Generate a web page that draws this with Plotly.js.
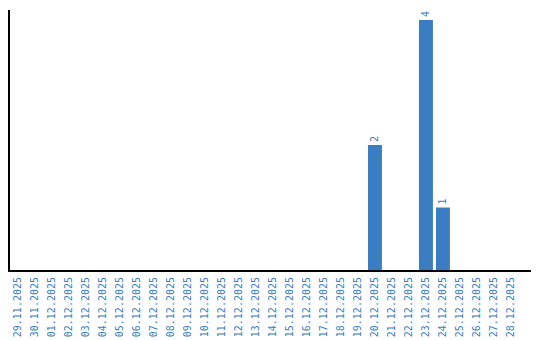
<!DOCTYPE html>
<html><head><meta charset="utf-8">
<script src="https://cdn.plot.ly/plotly-3.0.1.min.js"></script>
<style>html,body{margin:0;padding:0;background:#fff}</style>
</head><body><div id="chart" style="width:540px;height:340px"></div>
<script>
const dates = ["29.11.2025","30.11.2025","01.12.2025","02.12.2025","03.12.2025","04.12.2025","05.12.2025","06.12.2025","07.12.2025","08.12.2025","09.12.2025","10.12.2025","11.12.2025","12.12.2025","13.12.2025","14.12.2025","15.12.2025","16.12.2025","17.12.2025","18.12.2025","19.12.2025","20.12.2025","21.12.2025","22.12.2025","23.12.2025","24.12.2025","25.12.2025","26.12.2025","27.12.2025","28.12.2025"];
const counts = [0,0,0,0,0,0,0,0,0,0,0,0,0,0,0,0,0,0,0,0,0,2,0,0,4,1,0,0,0,0];
const labels = counts.map(v => v > 0 ? String(v) : "");
const blue = "#3b7dc2";
Plotly.newPlot("chart", [{
  type: "bar", x: dates, y: counts, text: labels,
  textposition: "outside", textangle: -90, cliponaxis: false,
  textfont: {family: "DejaVu Sans Mono", size: 10, color: blue},
  marker: {color: blue}, width: 0.82, hoverinfo: "none"
}], {
  width: 540, height: 340,
  margin: {l: 10, r: 9, t: 10, b: 70},
  paper_bgcolor: "#fff", plot_bgcolor: "#fff",
  showlegend: false,
  xaxis: {type: "category", range: [-0.47, 30.18], showline: true, linecolor: "#000", linewidth: 2,
    tickangle: -90, ticks: "", showgrid: false, zeroline: false, ticklabelstandoff: 1,
    tickfont: {family: "DejaVu Sans Mono", size: 10, color: blue}},
  yaxis: {range: [0, 4.16], showline: true, linecolor: "#000", linewidth: 2,
    showticklabels: false, ticks: "", showgrid: false, zeroline: false}
}, {staticPlot: true});
</script></body></html>
